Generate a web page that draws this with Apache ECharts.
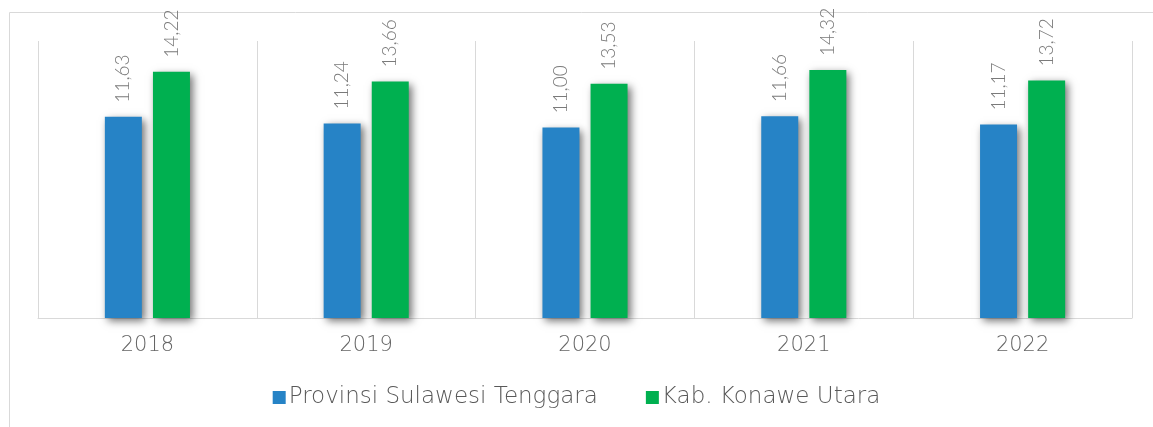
<!DOCTYPE html>
<html>
<head>
<meta charset="utf-8">
<script src="https://cdn.jsdelivr.net/npm/echarts@6/dist/echarts.min.js"></script>
<style>
html,body{margin:0;padding:0;background:#fff;}
#c{width:1153px;height:427px;}
</style>
</head>
<body>
<div id="c"></div>
<script>
var categories = ['2018', '2019', '2020', '2021', '2022'];
var seriesNames = ['Provinsi Sulawesi Tenggara', 'Kab. Konawe Utara'];
var provinsi = [11.63, 11.24, 11.00, 11.66, 11.17];
var konawe = [14.22, 13.66, 13.53, 14.32, 13.72];
var colors = ['#2683C6', '#00B050'];

var chart = echarts.init(document.getElementById('c'));
function fmt(p){ return p.value.toFixed(2).replace('.', ','); }
function mk(name, data, color){
  return {
    name: name, type: 'bar', data: data, barWidth: 37, barGap: '30%',
    itemStyle: { color: color, shadowColor: 'rgba(0,0,0,0.55)', shadowBlur: 8, shadowOffsetX: 3, shadowOffsetY: 3 },
    label: { show: true, position: 'top', rotate: 90, align: 'left', verticalAlign: 'middle', distance: 14,
      formatter: fmt, color: '#7a7a7a', fontSize: 19, fontFamily: 'Lato', fontWeight: 300 }
  };
}
chart.setOption({
  animation: false,
  color: colors,
  graphic: [{ type: 'rect', shape: { x: 9.5, y: 12.5, width: 1200, height: 500 }, style: { fill: 'none', stroke: '#d9d9d9', lineWidth: 1 }, z: -1 }],
  grid: { left: 38, right: 21, top: 41, bottom: 109 },
  xAxis: {
    type: 'category', data: categories,
    axisLine: { lineStyle: { color: '#d9d9d9', width: 1 } },
    axisTick: { show: false },
    splitLine: { show: true, lineStyle: { color: '#d9d9d9', width: 1 } },
    axisLabel: { color: '#656565', fontSize: 21, fontFamily: 'DejaVu Sans', fontWeight: 300, margin: 17 }
  },
  yAxis: { type: 'value', min: 0, max: 16, show: false, splitLine: { show: false } },
  legend: {
    data: seriesNames, bottom: 13, left: 'center', itemWidth: 13, itemHeight: 13, itemGap: 48,
    icon: 'rect',
    textStyle: { color: '#595959', fontSize: 23, fontFamily: 'DejaVu Sans', fontWeight: 300, padding: [0, 0, 0, -2] }
  },
  series: [mk(seriesNames[0], provinsi, colors[0]), mk(seriesNames[1], konawe, colors[1])]
});
</script>
</body>
</html>
